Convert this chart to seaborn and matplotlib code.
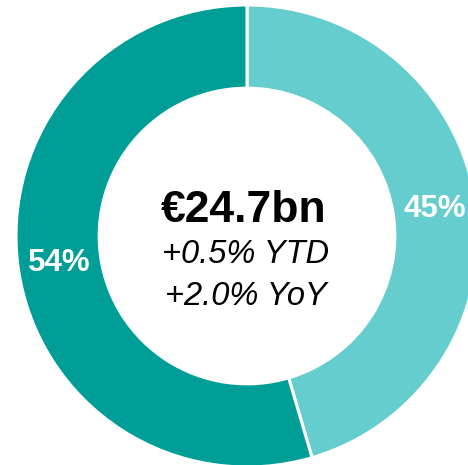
import matplotlib
matplotlib.use("Agg")
import matplotlib.pyplot as plt
import seaborn as sns

# donut data
segments = ['light', 'dark']
values = [45, 54]
pct_labels = ['45%', '54%']
colors = ['#66CDCE', '#009E96']
total_text = '€24.7bn'
ytd_text = '+0.5% YTD'
yoy_text = '+2.0% YoY'

sns.set_style('white')
plt.rcParams['font.family'] = ['Liberation Sans', 'DejaVu Sans']

W, H = 468, 465
fig = plt.figure(figsize=(W / 100, H / 100), dpi=100)
cx, cy, r = 247, 236, 231
ax = fig.add_axes([(cx - r) / W, (H - cy - r) / H, 2 * r / W, 2 * r / H])

lab = iter(pct_labels)
wedges, _, autotexts = ax.pie(
    values, colors=colors, startangle=90, counterclock=False,
    radius=1, autopct=lambda p: next(lab), pctdistance=0.82,
    wedgeprops=dict(width=0.36, edgecolor='white', linewidth=2.2),
    textprops=dict(color='white', fontsize=22.5, fontweight='bold'))
ax.set_xlim(-1, 1)
ax.set_ylim(-1, 1)
ax.set_aspect('equal')
ax.axis('off')

ax.text(-0.015, 0.11, total_text, ha='center', va='center', fontsize=32,
        fontweight='bold', color='black')
ax.text(-0.005, -0.08, ytd_text, ha='center', va='center', fontsize=23.5,
        style='italic', color='black')
ax.text(-0.005, -0.26, yoy_text, ha='center', va='center', fontsize=23.5,
        style='italic', color='black')

fig.savefig('out.png', dpi=100)
